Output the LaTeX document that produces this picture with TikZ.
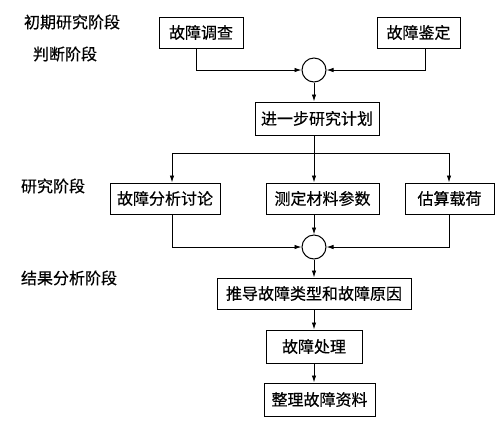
\documentclass[tikz,border=0pt]{standalone}
\usepackage{fontspec}
\newfontfamily\cjk[FakeBold=0.5]{Noto Sans CJK SC}
\usetikzlibrary{arrows.meta}
\begin{document}
\begin{tikzpicture}[x=1pt,y=-1pt,
  box/.style={draw,line width=1pt,minimum height=31pt,inner xsep=0pt,font=\cjk\fontsize{16}{16}\selectfont},
  lbl/.style={font=\cjk\fontsize{16}{16}\selectfont,inner sep=0pt},
  junc/.style={draw,line width=1pt,circle,minimum size=24pt,inner sep=0pt},
  arr/.style={line width=0.9pt,-{Latex[length=7pt,width=4.5pt]}},
  ln/.style={line width=0.9pt}]
\useasboundingbox (0,0) rectangle (500,432);
% stage labels
\node[lbl] (s1) at (72,22) {初期研究阶段};
\node[lbl] (s2) at (65,54) {判断阶段};
\node[lbl] (s3) at (53,186) {研究阶段};
\node[lbl] (s4) at (69,278) {结果分析阶段};
% boxes
\node[box,minimum width=84pt] (b1) at (201,32.5) {故障调查};
\node[box,minimum width=83pt] (b2) at (418.5,32.5) {故障鉴定};
\node[junc] (c1) at (314,70) {};
\node[box,minimum width=124pt,minimum height=33pt] (b3) at (317,118.5) {进一步研究计划};
\node[box,minimum width=110pt] (b4) at (165,198.5) {故障分析讨论};
\node[box,minimum width=113pt] (b5) at (322.5,198.5) {测定材料参数};
\node[box,minimum width=89pt] (b6) at (449.5,198.5) {估算载荷};
\node[junc] (c2) at (314,247) {};
\node[box,minimum width=194pt] (b7) at (314,293.5) {推导故障类型和故障原因};
\node[box,minimum width=96pt,minimum height=33pt] (b8) at (314,346.5) {故障处理};
\node[box,minimum width=111pt,minimum height=33pt] (b9) at (319.5,399.5) {整理故障资料};
% connectors
\coordinate (split) at (314,153);
\draw[arr] ([xshift=-5pt]b1.south) |- (c1.west);
\draw[arr] ([xshift=6.5pt]b2.south) |- (c1.east);
\draw[arr] (c1.south) -- (c1.south |- b3.north);
\draw[ln] (c1.south |- b3.south) -- (split);
\draw[arr] (split) -| ([xshift=7pt]b4.north);
\draw[arr] (split) -- (split |- b5.north);
\draw[arr] (split) -| ([xshift=-0.5pt]b6.north);
\draw[arr] ([xshift=7pt]b4.south) |- (c2.west);
\draw[arr] ([xshift=-0.5pt]b6.south) |- (c2.east);
\draw[arr] (c2 |- b5.south) -- (c2.north);
\draw[arr] (c2.south) -- (b7.north);
\draw[arr] (b7.south) -- (b8.north);
\draw[arr] (b8.south) -- (b8.south |- b9.north);
\end{tikzpicture}
\end{document}
